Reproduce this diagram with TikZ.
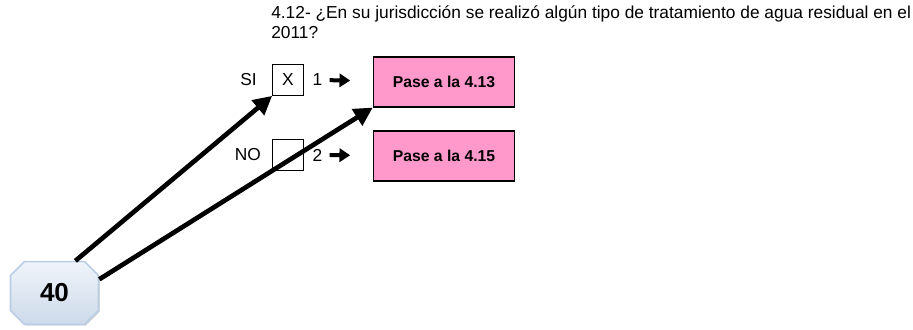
\documentclass[tikz,border=0pt]{standalone}
\usepackage{fontspec}
\setmainfont{Liberation Sans}
\usepackage{tikz}
\usetikzlibrary{positioning, arrows.meta, shapes.misc, shadows}
\definecolor{pasepink}{RGB}{255,153,204}
\definecolor{octline}{RGB}{185,205,229}
\definecolor{octtop}{RGB}{240,244,250}
\definecolor{octbot}{RGB}{205,218,234}

\tikzset{
  chk/.style={draw, line width=0.8pt, minimum width=23pt, minimum height=23pt, inner sep=0pt, font=\fontsize{13}{15}\selectfont},
  pase/.style={draw, fill=pasepink, line width=0.8pt, minimum width=106pt, minimum height=37.5pt, font=\bfseries\fontsize{11.8}{13}\selectfont},
  oct/.style={chamfered rectangle, chamfered rectangle xsep=10pt, draw=octline, line width=1.2pt, top color=octtop, bottom color=octbot, minimum width=66pt, minimum height=47pt, inner sep=0pt, font=\bfseries\fontsize{19.5}{21}\selectfont, drop shadow={shadow xshift=1pt, shadow yshift=-1pt, opacity=.3}},
  big/.style={line width=3.5pt, -{Triangle[length=14pt, width=14pt]}},
  fat/.style={line width=3pt, -{Triangle[length=8pt, width=10pt]}, shorten <=2pt, shorten >=17pt}
}

\begin{document}
\begin{tikzpicture}[x=0.75pt, y=-0.75pt, font=\fontsize{13}{15}\selectfont]
	\useasboundingbox (0,0) rectangle (913,329);
	
	\node[anchor=north west, align=left, inner sep=0pt] (q) at (271,5) {4.12- ¿En su jurisdicción se realizó algún tipo de tratamiento de agua residual en el\\2011?};
	
	\node[chk] (b1) at (288,80) {X};
	\node[chk] (b2) at (288,155) {};
	\node[left=8pt of b1] (si) {SI};
	\node[left=5pt of b2] (no) {NO};
	\node[right=3pt of b1] (n1) {1};
	\node[right=3pt of b2] (n2) {2};
	\node[pase] (p1) at (444,82) {Pase a la 4.13};
	\node[pase] (p2) at (444,156) {Pase a la 4.15};
	\node[oct] (c) at (54.5,293) {40};
	
	\draw[fat] (n1) -- (p1);
	\draw[fat] (n2) -- (p2);
	\draw[big] (c.57) -- (b1.south west);
	\draw[big] (c.17) -- (p1.south west);
\end{tikzpicture}
\end{document}
